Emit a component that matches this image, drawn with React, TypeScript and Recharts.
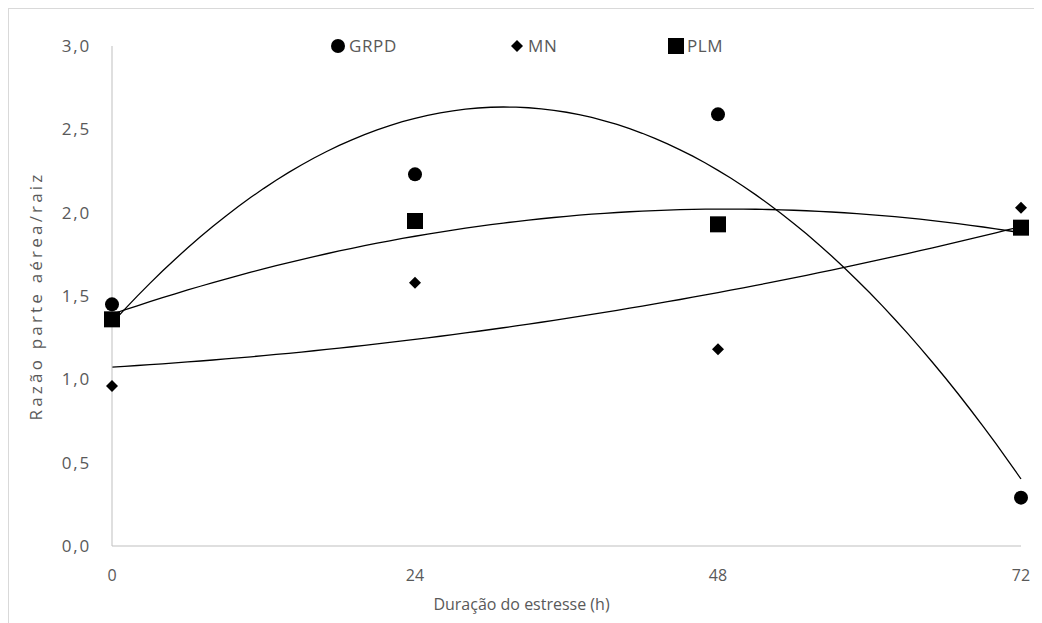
import {
  ComposedChart,
  Legend,
  Line,
  Scatter,
  XAxis,
  YAxis,
} from "recharts";

const hours = [0, 24, 48, 72];
const grpd = [1.45, 2.23, 2.59, 0.29];
const mn = [0.96, 1.58, 1.18, 2.03];
const plm = [1.36, 1.95, 1.93, 1.91];
const xTicks = [0, 24, 48, 72];
const yTicks = [0, 0.5, 1, 1.5, 2, 2.5, 3];

const FONT = "'Open Sans', 'Noto Sans', sans-serif";
const GRAY = "#595959";

// Excel-style 2nd order polynomial trendline (least squares)
function quadFit(xs: number[], ys: number[]) {
  const s = [0, 0, 0, 0, 0];
  const t = [0, 0, 0];
  xs.forEach((x, i) => {
    for (let k = 0; k < 5; k++) s[k] += Math.pow(x, k);
    for (let k = 0; k < 3; k++) t[k] += Math.pow(x, k) * ys[i];
  });
  const m = [
    [s[0], s[1], s[2]],
    [s[1], s[2], s[3]],
    [s[2], s[3], s[4]],
  ];
  const det = (a: number[][]) =>
    a[0][0] * (a[1][1] * a[2][2] - a[1][2] * a[2][1]) -
    a[0][1] * (a[1][0] * a[2][2] - a[1][2] * a[2][0]) +
    a[0][2] * (a[1][0] * a[2][1] - a[1][1] * a[2][0]);
  const d = det(m);
  return [0, 1, 2].map((c) => {
    const mc = m.map((row, r) => row.map((v, j) => (j === c ? t[r] : v)));
    return det(mc) / d;
  });
}

function trend(ys: number[]) {
  const [a, b, c] = quadFit(hours, ys);
  const pts = [];
  for (let x = 0; x <= 72; x += 1) pts.push({ x, y: a + b * x + c * x * x });
  return pts;
}

const toPoints = (ys: number[]) => hours.map((x, i) => ({ x, y: ys[i] }));

const Circle = (p: any) => <circle cx={p.cx} cy={p.cy} r={7} fill="#000" />;
const Diamond = (p: any) => (
  <polygon
    points={`${p.cx},${p.cy - 6} ${p.cx + 6},${p.cy} ${p.cx},${p.cy + 6} ${p.cx - 6},${p.cy}`}
    fill="#000"
  />
);
const Square = (p: any) => (
  <rect x={p.cx - 8} y={p.cy - 8} width={16} height={16} fill="#000" />
);

const legendItems = [
  { name: "GRPD", left: 320, marker: <circle cx={9} cy={9} r={7} fill="#000" /> },
  { name: "MN", left: 499, marker: <polygon points="9,3 15,9 9,15 3,9" fill="#000" /> },
  { name: "PLM", left: 658, marker: <rect x={1} y={1} width={16} height={16} fill="#000" /> },
];

const renderLegend = () => (
  <div
    style={{
      position: "relative",
      height: 20,
      width: 1000,
      fontFamily: FONT,
      fontSize: 17,
      letterSpacing: 0.6,
      color: GRAY,
    }}
  >
    {legendItems.map((it) => (
      <div
        key={it.name}
        style={{ position: "absolute", left: it.left, top: 0, display: "flex", alignItems: "center", gap: 2 }}
      >
        <svg width={18} height={18}>{it.marker}</svg>
        <span>{it.name}</span>
      </div>
    ))}
  </div>
);

export default function App() {
  return (
    <div
      style={{
        width: 1040,
        height: 620,
        borderLeft: "1px solid #D9D9D9",
        borderTop: "1px solid #D9D9D9",
        background: "#fff",
      }}
    >
      <ComposedChart
        width={1034}
        height={615}
        margin={{ top: 37, right: 22, left: 0, bottom: 28 }}
      >
        <XAxis
          type="number"
          dataKey="x"
          domain={[0, 72]}
          ticks={xTicks}
          height={50}
          axisLine={{ stroke: "#BFBFBF" }}
          tickLine={false}
          tickSize={0}
          tickMargin={24}
          tick={{ fill: GRAY, fontSize: 16, fontFamily: FONT }}
          label={{
            value: "Duração do estresse (h)",
            position: "bottom",
            offset: 3,
            dx: -45,
            style: { fill: GRAY, fontSize: 16, fontFamily: FONT },
          }}
        />
        <YAxis
          type="number"
          dataKey="y"
          domain={[0, 3]}
          ticks={yTicks}
          width={103}
          axisLine={{ stroke: "#BFBFBF" }}
          tickLine={false}
          tickSize={0}
          tickMargin={21}
          tickFormatter={(v: number) => v.toFixed(1).replace(".", ",")}
          tick={{ fill: GRAY, fontSize: 17, fontFamily: FONT, letterSpacing: 1.8 }}
          label={{
            value: "Razão parte aérea/raiz",
            angle: -90,
            position: "insideLeft",
            offset: 27,
            style: { fill: GRAY, fontSize: 17, fontFamily: FONT, letterSpacing: 3.2, textAnchor: "middle" },
          }}
        />
        <Legend verticalAlign="middle" wrapperStyle={{ top: 25, left: 0 }} content={renderLegend} />
        <Line data={trend(grpd)} dataKey="y" stroke="#000" strokeWidth={1.3} dot={false} legendType="none" isAnimationActive={false} />
        <Line data={trend(mn)} dataKey="y" stroke="#000" strokeWidth={1.3} dot={false} legendType="none" isAnimationActive={false} />
        <Line data={trend(plm)} dataKey="y" stroke="#000" strokeWidth={1.3} dot={false} legendType="none" isAnimationActive={false} />
        <Scatter name="GRPD" data={toPoints(grpd)} shape={Circle} isAnimationActive={false} />
        <Scatter name="MN" data={toPoints(mn)} shape={Diamond} isAnimationActive={false} />
        <Scatter name="PLM" data={toPoints(plm)} shape={Square} isAnimationActive={false} />
      </ComposedChart>
    </div>
  );
}
